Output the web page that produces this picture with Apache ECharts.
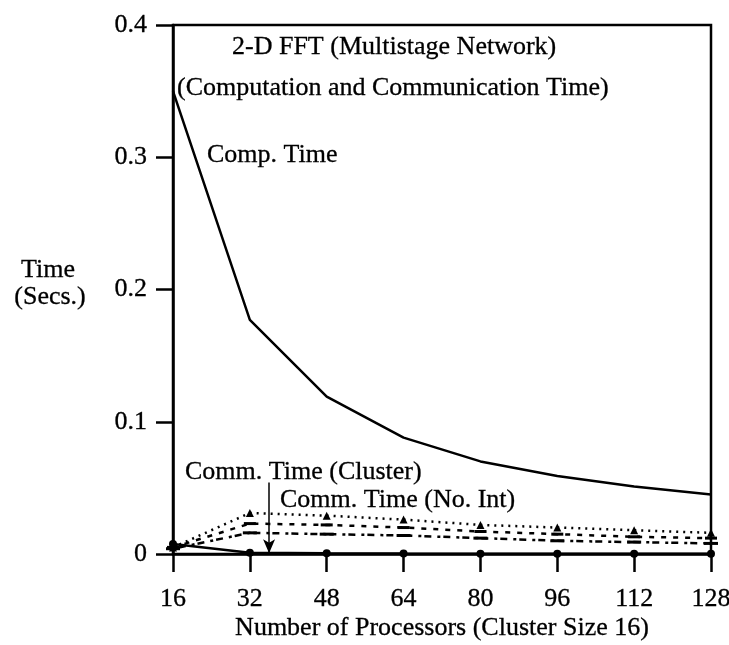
<!DOCTYPE html>
<html>
<head>
<meta charset="utf-8">
<script src="https://cdn.jsdelivr.net/npm/echarts@6/dist/echarts.min.js"></script>
<style>
  html, body { margin: 0; padding: 0; background: #fff; }
  #chart { width: 729px; height: 645px; }
</style>
</head>
<body>
<div id="chart"></div>
<script>
// values
const procs = [16, 32, 48, 64, 80, 96, 112, 128];
const compTime = [0.350, 0.177, 0.119, 0.088, 0.070, 0.059, 0.051, 0.045];
const commNoIntTop = [0.005, 0.031, 0.029, 0.026, 0.022, 0.020, 0.018, 0.016];
const commNoIntMid = [0.005, 0.023, 0.022, 0.020, 0.017, 0.015, 0.013, 0.012];
const commNoIntLow = [0.004, 0.016, 0.015, 0.014, 0.012, 0.010, 0.009, 0.008];
const commCluster = [0.0075, 0.001, 0.0005, 0.0003, 0.0002, 0.0002, 0.0001, 0.0001];
const yTicks = [0, 0.1, 0.2, 0.3, 0.4];

const FONT = '"Liberation Serif", "Times New Roman", serif';
const INK = '#000';
const SIZE = 26;

const pairs = (ys) => procs.map((x, i) => [x, ys[i]]);

// slightly heavier glyphs, like the scanned print
const ink_text = { color: INK, fontFamily: FONT, fontSize: SIZE, textBorderColor: INK, textBorderWidth: 0.3 };

function text(str, x, y, align = 'left') {
    return {
        type: 'text', x, y,
        style: {
            text: str, fill: INK, fontFamily: FONT, fontSize: SIZE,
            stroke: INK, lineWidth: 0.3,
            align, verticalAlign: 'middle',
        },
    };
}

const chart = echarts.init(document.getElementById('chart'), null, { renderer: 'canvas' });

chart.setOption({
    backgroundColor: '#fff',
    animation: false,
    textStyle: { fontFamily: FONT, color: INK },
    grid: {
        left: 173, right: 18, top: 25, bottom: 91,
        outerBoundsMode: 'none', containLabel: false,
        show: true, borderColor: INK, borderWidth: 2.5,
    },
    xAxis: {
        type: 'value', min: 16, max: 128, interval: 16,
        name: 'Number of Processors (Cluster Size 16)',
        nameLocation: 'middle', nameGap: 61, nameMoveOverlap: false,
        nameTextStyle: ink_text,
        axisLine: { lineStyle: { color: INK, width: 2.5 } },
        axisTick: { length: 18, lineStyle: { color: INK, width: 2.5 } },
        axisLabel: { ...ink_text, margin: 32 },
        splitLine: { show: false },
    },
    yAxis: {
        type: 'value', min: 0, max: 0.4, interval: 0.1,
        axisLine: { show: true, lineStyle: { color: INK, width: 2.5 } },
        axisTick: { show: true, length: 17, lineStyle: { color: INK, width: 2.5 } },
        axisLabel: {
            ...ink_text, margin: 26,
            formatter: (v) => {
                const t = yTicks.find((k) => Math.abs(k - v) < 1e-9);
                return t === 0 ? '0' : t.toFixed(1);
            },
        },
        splitLine: { show: false },
    },
    graphic: [
        text('2-D FFT (Multistage Network)', 232, 47),
        text('(Computation and Communication Time)', 177, 88),
        text('Comp. Time', 207, 155),
        text('Comm. Time (Cluster)', 185, 472),
        text('Comm. Time (No. Int)', 280, 500),
        text('Time', 48, 270, 'center'),
        text('(Secs.)', 50, 297, 'center'),
    ],
    series: [
        {
            name: 'Comp. Time', type: 'line', data: pairs(compTime),
            showSymbol: false, lineStyle: { color: INK, width: 2.5 },
        },
        {
            name: 'Comm. Time (No. Int) A', type: 'line', data: pairs(commNoIntTop),
            symbol: 'triangle', symbolSize: 8, itemStyle: { color: INK },
            lineStyle: { color: INK, width: 2.5, type: [2, 5] },
        },
        {
            name: 'Comm. Time (No. Int) B', type: 'line', data: pairs(commNoIntMid),
            symbol: 'rect', symbolSize: [12, 3], itemStyle: { color: INK },
            lineStyle: { color: INK, width: 2.5, type: [5, 7] },
        },
        {
            name: 'Comm. Time (No. Int) C', type: 'line', data: pairs(commNoIntLow),
            symbol: 'rect', symbolSize: [14, 3], itemStyle: { color: INK },
            lineStyle: { color: INK, width: 2.5, type: [3, 3, 7, 6] },
        },
        {
            name: 'Comm. Time (Cluster)', type: 'line', data: pairs(commCluster),
            symbol: 'circle', symbolSize: 8, itemStyle: { color: INK },
            lineStyle: { color: INK, width: 2.5 },
            markLine: {
                silent: true, symbol: ['none', 'arrow'], symbolSize: [9, 14],
                label: { show: false },
                lineStyle: { color: INK, width: 1.5, type: 'solid' },
                data: [[{ coord: [36, 0.054] }, { coord: [36, 0.0005] }]],
            },
        },
    ],
});
</script>
</body>
</html>
